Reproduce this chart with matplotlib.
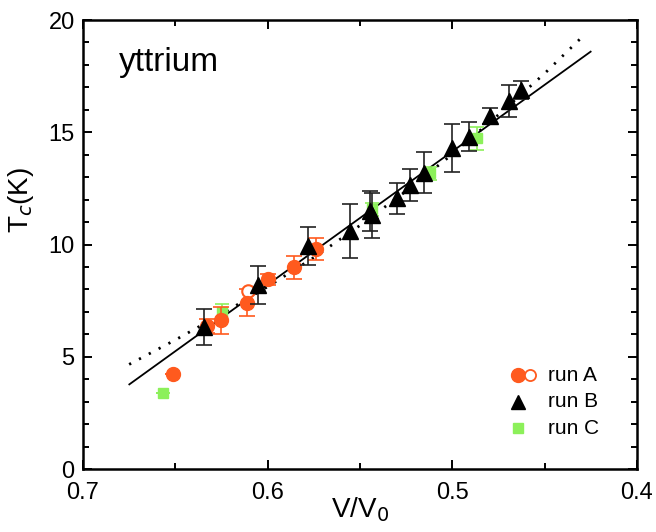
#!/usr/bin/env python3
# Tc vs V/V0 for yttrium, three runs plus two fit lines

import matplotlib
matplotlib.use('Agg')
import matplotlib.pyplot as plt
from matplotlib.ticker import MultipleLocator

plt.rcParams['font.family'] = ['Liberation Sans', 'DejaVu Sans']

# ------------------------------------
# Data
# ------------------------------------
# run A, filled circles
a_x = [0.6514, 0.6327, 0.6253, 0.6114, 0.6000, 0.5856, 0.5740]
a_tc = [4.23, 6.38, 6.62, 7.41, 8.45, 8.98, 9.79]
a_err = [0.0, 0.3, 0.6, 0.6, 0.25, 0.5, 0.5]
# run A, open circle
a_open_x = [0.6108]
a_open_tc = [7.94]

# run B, triangles
b_x = [0.6345, 0.6051, 0.5780, 0.5554, 0.5445, 0.5435, 0.5302, 0.5230,
       0.5152, 0.5002, 0.4909, 0.4796, 0.4695, 0.4630]
b_tc = [6.34, 8.20, 9.93, 10.60, 11.50, 11.30, 12.06, 12.65,
        13.20, 14.28, 14.80, 15.72, 16.40, 16.88]
b_err = [0.8, 0.85, 0.85, 1.2, 0.9, 1.0, 0.7, 0.7,
         0.9, 1.07, 0.65, 0.35, 0.7, 0.4]

# run C, squares
c_x = [0.6565, 0.6247, 0.5437, 0.5121, 0.4868]
c_tc = [3.37, 7.00, 11.57, 13.17, 14.73]
c_err = [0.0, 0.35, 0.3, 0.3, 0.5]

# solid fit (straight line, end points)
fit_solid_x = [0.6749, 0.4251]
fit_solid_tc = [3.77, 18.59]
# dotted fit (curved, points read along it)
fit_dot_x = [0.675, 0.650, 0.625, 0.600, 0.575, 0.550, 0.525,
             0.500, 0.475, 0.450, 0.428]
fit_dot_tc = [4.66, 5.75, 6.90, 8.12, 9.42, 10.85, 12.38,
              14.02, 15.78, 17.62, 19.38]

orange = '#ff5a1e'
green = '#8cf05a'

# ------------------------------------
# Figure
# ------------------------------------
fig = plt.figure(figsize=(6.56, 5.32), dpi=100)
ax = fig.add_axes([0.1265, 0.1184, 0.8445, 0.844])

ax.plot(fit_solid_x, fit_solid_tc, '-', color='black', linewidth=1.3, zorder=2)
ax.plot(fit_dot_x, fit_dot_tc, color='black', linewidth=2.0,
        linestyle=(0, (0.8, 3.2)), zorder=2)

ax.errorbar(c_x, c_tc, yerr=c_err, fmt='s', color=green, markersize=7,
            elinewidth=1.2, capsize=5, capthick=1.2, zorder=3)
ax.errorbar(a_x, a_tc, yerr=a_err, fmt='o', color=orange, markersize=10,
            elinewidth=1.2, capsize=6, capthick=1.2, zorder=4)
ax.plot(a_open_x, a_open_tc, 'o', markerfacecolor='white', markeredgecolor=orange,
        markeredgewidth=1.5, markersize=9, zorder=4)
ax.errorbar(b_x, b_tc, yerr=b_err, fmt='^', color='black', markersize=11,
            ecolor='#222222', elinewidth=1.2, capsize=6, capthick=1.2, zorder=5)

# ------------------------------------
# Axes
# ------------------------------------
ax.set_xlim(0.7, 0.4)
ax.set_ylim(0, 20)
ax.xaxis.set_minor_locator(MultipleLocator(0.05))
ax.yaxis.set_major_locator(MultipleLocator(5))
ax.yaxis.set_minor_locator(MultipleLocator(1))
ax.set_xticks([0.7, 0.6, 0.5, 0.4])
ax.set_xticklabels(['0.7', '0.6', '0.5', '0.4'])
ax.tick_params(which='both', direction='in', top=True, right=True,
               labelsize=17, width=1.4)
ax.tick_params(which='major', length=6.5, pad=6)
ax.tick_params(axis='x', which='major', pad=9)
ax.tick_params(which='minor', length=4.5)
for s in ax.spines.values():
    s.set_linewidth(1.8)

ax.set_xlabel('V/V$_0$', fontsize=20)
ax.xaxis.set_label_coords(0.5, -0.058)
ax.set_ylabel('T$_c$(K)', fontsize=20)
ax.yaxis.set_label_coords(-0.085, 0.6)

ax.text(0.065, 0.905, 'yttrium', transform=ax.transAxes, fontsize=24,
        va='center', ha='left')

# ------------------------------------
# Legend (drawn by hand in axes coords)
# ------------------------------------
ax.plot([0.785], [0.209], 'o', color=orange, markersize=10, transform=ax.transAxes)
ax.plot([0.807], [0.209], 'o', markerfacecolor='white', markeredgecolor=orange,
        markeredgewidth=1.3, markersize=8, transform=ax.transAxes)
ax.plot([0.785], [0.150], '^', color='black', markersize=10, transform=ax.transAxes)
ax.plot([0.785], [0.091], 's', color=green, markersize=7, transform=ax.transAxes)
for yy, lab in [(0.209, 'run A'), (0.150, 'run B'), (0.091, 'run C')]:
    ax.text(0.839, yy, lab, transform=ax.transAxes, fontsize=15,
            va='center', ha='left')

fig.savefig('out.png', dpi=100)
